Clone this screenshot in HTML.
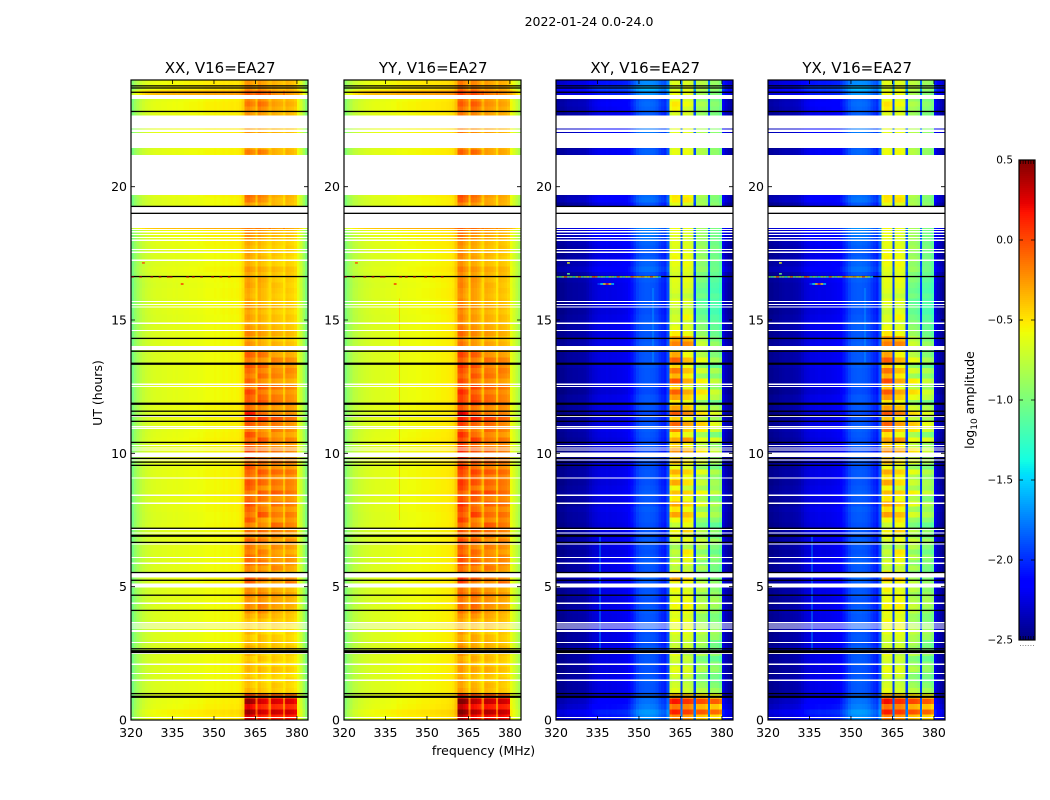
<!DOCTYPE html>
<html>
<head>
<meta charset="utf-8">
<title>2022-01-24 0.0-24.0</title>
<style>
html,body{margin:0;padding:0;background:#fff;}
svg{display:block;}
text{font-family:"DejaVu Sans","Liberation Sans",sans-serif;fill:#000;}
</style>
</head>
<body>
<svg id="figure" xmlns="http://www.w3.org/2000/svg" width="1050" height="800" viewBox="0 0 1050 800">
  <rect x="0" y="0" width="1050" height="800" fill="#fff"/>
  <text x="589" y="26" font-size="12.5" text-anchor="middle">2022-01-24 0.0-24.0</text>
  <text x="483.5" y="755" font-size="12.5" text-anchor="middle">frequency (MHz)</text>
  <text x="0" y="0" font-size="12.5" text-anchor="middle" transform="translate(102,393) rotate(-90)">UT (hours)</text>
  <text x="0" y="0" font-size="12.5" text-anchor="middle" transform="translate(974,400) rotate(-90)">log<tspan font-size="9" dy="3">10</tspan><tspan dy="-3"> amplitude</tspan></text>
  <g id="panels"></g>
  <g id="colorbar"></g>
</svg>
<script>
// ---- Chart data (log10 amplitude, hours, MHz) ----
const panelTitles = ["XX, V16=EA27", "YY, V16=EA27", "XY, V16=EA27", "YX, V16=EA27"];
const freqTicks = [320, 335, 350, 365, 380];
const hourTicks = [0, 5, 10, 15, 20];
const colorTicks = [0.5, 0.0, -0.5, -1.0, -1.5, -2.0, -2.5];
const colorTickLabels = ["0.5", "0.0", "\u22120.5", "\u22121.0", "\u22121.5", "\u22122.0", "\u22122.5"];

// Median spectrum for each correlation, one value per 1 MHz channel from 320 MHz
const spectrumXX = [-1.02,-0.92,-0.85,-0.78,-0.74,-0.71,-0.69,-0.67,-0.66,-0.65,-0.65,-0.64,-0.64,-0.63,-0.63,-0.62,
  -0.63,-0.62,-0.62,-0.61,-0.61,-0.60,-0.60,-0.60,-0.59,-0.60,-0.59,-0.58,-0.58,-0.58,-0.57,-0.58,
  -0.57,-0.56,-0.57,-0.56,-0.55,-0.56,-0.55,-0.53,-0.47,-0.30,-0.27,-0.31,-0.35,-0.32,-0.30,-0.34,
  -0.36,-0.40,-0.38,-0.34,-0.36,-0.38,-0.40,-0.40,-0.36,-0.38,-0.40,-0.44,-0.60,-0.72,-0.86,-1.00];
const spectrumYY = [-0.98,-0.90,-0.84,-0.78,-0.76,-0.73,-0.71,-0.69,-0.68,-0.67,-0.66,-0.65,-0.65,-0.64,-0.64,-0.63,
  -0.63,-0.62,-0.62,-0.60,-0.61,-0.60,-0.60,-0.59,-0.59,-0.59,-0.58,-0.58,-0.57,-0.57,-0.57,-0.56,
  -0.56,-0.55,-0.55,-0.54,-0.54,-0.53,-0.52,-0.50,-0.42,-0.20,-0.18,-0.24,-0.30,-0.28,-0.24,-0.26,
  -0.30,-0.36,-0.32,-0.28,-0.30,-0.32,-0.36,-0.36,-0.32,-0.34,-0.36,-0.40,-0.60,-0.68,-0.76,-0.84];
const spectrumXY = [-2.47,-2.46,-2.46,-2.44,-2.42,-2.42,-2.41,-2.41,-2.40,-2.40,-2.39,-2.36,-2.32,-2.29,-2.27,-2.25,
  -2.24,-2.24,-2.23,-2.24,-2.23,-2.23,-2.22,-2.22,-2.21,-2.20,-2.16,-2.08,-2.01,-1.94,-1.90,-1.88,
  -1.87,-1.87,-1.88,-1.89,-1.92,-1.98,-2.02,-2.05,-1.90,-0.70,-0.64,-0.64,-0.66,-0.70,-0.66,-0.66,
  -0.68,-0.72,-0.88,-0.84,-0.84,-0.85,-0.90,-1.00,-0.94,-0.94,-0.95,-1.02,-2.25,-2.35,-2.41,-2.45];
const spectrumYX = [-2.46,-2.46,-2.44,-2.44,-2.42,-2.41,-2.40,-2.40,-2.40,-2.39,-2.38,-2.36,-2.32,-2.28,-2.26,-2.24,
  -2.24,-2.23,-2.22,-2.23,-2.23,-2.22,-2.22,-2.21,-2.20,-2.19,-2.14,-2.07,-2.00,-1.93,-1.88,-1.87,
  -1.86,-1.86,-1.87,-1.88,-1.91,-1.97,-2.01,-2.05,-1.88,-0.68,-0.62,-0.62,-0.65,-0.70,-0.65,-0.64,
  -0.66,-0.70,-0.86,-0.82,-0.82,-0.84,-0.88,-0.98,-0.92,-0.92,-0.94,-1.00,-2.23,-2.33,-2.39,-2.45];

// Narrow notches between the four spectral windows
const gapFreqs = [365.4, 370.2, 375.3];
const gapValuesParallel = [-0.46, -0.46, -0.48];
const gapValuesCross = [-1.95, -1.95, -1.95];

// Row offsets (hundredths of a dex), one value per 0.2 h from 0 UT. Parallel hands
const parallelLow = [6,8,4,3,1, 0,0,0,0,0, 0,0,0,0,-1, 0,0,-1,0,0,
  0,0,0,0,0, 2,2,0,0,0, 0,0,0,0,0, 0,1,0,0,1,
  1,1,2,1,1, 2,2,1,2,2, 2,2,3,2,1, 2,2,1,2,1,
  0,0,1,0,0, 0,0,0,0,0, 0,0,0,0,0, -1,0,0,-1,0,
  0,-1,0,0,2, 0,0,0,1,2, 3,4,25,0,0, 0,0,0,2,2,
  0,0,0,0,0, 0,2,0,0,0, 3,3,0,2,4, 4,2,28,8,6];
const parallelBand1 = [55,70,52,72,30, -5,-10,-8,-12,-6, -8,-12,-5,-2,-8, -12,-5,-15,-10,-4,
  5,8,4,10,6, 22,28,10,8,18, 18,10,14,20,8, 16,10,24,14,20,
  28,18,12,22,26, 16,20,26,14,30, 30,22,18,28,12, 24,34,46,16,24,
  22,30,14,20,12, 18,26,12,22,6, 6,0,10,4,-2, 2,-2,4,0,-4,
  -2,2,0,-2,4, -4,-2,0,-6,-2, 4,8,12,0,0, 0,0,14,18,20,
  0,0,0,0,0, 0,12,0,0,0, 4,2,0,4,6, 14,8,22,6,4];
const parallelBand2 = [46,62,44,60,26, -6,-8,-12,-10,-4, -12,-6,-10,-4,-6, -4,-10,-12,-6,2,
  12,16,8,14,8, 4,22,12,6,18, 12,16,6,18,10, 22,12,6,30,16,
  12,20,26,10,24, 18,28,14,22,12, 24,16,30,14,8, 18,38,22,10,30,
  24,16,28,10,22, 14,24,8,20,4, 0,-2,6,2,-2, 0,-4,2,-2,-2,
  -2,0,2,-3,2, -6,-2,-4,-6,-4, 0,6,14,0,0, 0,0,10,14,12,
  0,0,0,0,0, 0,16,0,0,0, 4,2,0,6,12, 20,10,26,8,6];
const parallelBand3 = [50,66,46,62,28, -6,-4,-10,-8,-2, -10,-6,-8,-3,-4, -6,-12,-8,-4,0,
  4,8,6,10,4, 6,14,4,16,10, 10,8,14,6,12, 18,26,10,20,12,
  24,12,30,16,22, 14,26,12,22,16, 22,12,16,10,20, 20,32,14,8,22,
  20,12,22,8,18, 14,10,18,6,2, 2,-4,4,0,-3, -2,-6,0,-4,-6,
  -4,-2,-6,-4,0, -8,-6,-4,-8,-6, -2,2,10,0,0, 0,0,0,4,6,
  0,0,0,0,0, 0,2,0,0,0, 2,0,0,2,4, 8,4,14,2,2];
const parallelBand4 = [54,66,48,64,28, -6,-8,-6,-10,-4, -10,-8,-6,-2,-6, -8,-6,-12,-4,-2,
  2,6,4,8,2, 24,16,4,8,14, 14,6,12,16,6, 16,20,14,22,12,
  22,14,24,18,20, 16,24,12,20,14, 18,14,20,8,16, 14,26,16,12,18,
  16,12,20,6,14, 18,12,16,6,2, 0,-4,2,-2,-4, -2,-6,-2,-4,-6,
  -4,-6,-4,-2,0, -6,-8,-6,-4,-6, -2,0,8,0,0, 0,0,2,4,2,
  0,0,0,0,0, 0,4,0,0,0, 0,2,0,2,2, 6,2,12,2,2];

// Row offsets for the cross hands
const crossLow = [16,20,12,8,4, 0,0,2,0,-2, 0,0,0,2,-2, 0,-2,0,0,0,
  2,0,-2,0,0, 2,4,0,0,2, 0,-2,0,2,0, 0,-2,0,0,2,
  -2,0,2,0,-2, 0,0,-2,0,2, -4,0,-2,0,2, 0,-2,-4,0,0,
  0,-4,-2,0,0, 0,2,0,0,4, 2,0,0,2,2, 0,-2,0,0,0,
  0,0,2,0,8, 4,2,0,2,4, 8,10,16,0,0, 0,0,8,6,6,
  0,0,0,0,0, 0,4,0,0,0, 10,8,0,2,4, 6,4,18,30,16];
const crossBand1 = [45,78,50,82,30, 2,-4,-10,-2,4, -8,-4,4,-6,-10, -6,2,4,6,0,
  4,8,4,0,8, 4,34,8,-14,-4, -16,-10,-22,-6,2, 8,-10,6,36,14,
  36,12,26,6,34, 14,32,4,28,20, 42,22,34,14,46, 56,22,60,36,12,
  38,58,22,62,30, 50,20,58,34,-4, 46,36,12,4,-4, -4,-10,-6,0,-8,
  -2,0,2,-4,0, 4,8,6,0,2, 2,4,6,0,0, 0,0,12,14,8,
  0,0,0,0,0, 0,4,0,0,0, 2,0,0,-2,10, 14,4,6,-4,0];
const crossBand2 = [40,70,46,74,26, -4,-8,-14,-4,2, -10,-6,-12,-4,-8, 0,4,8,4,0,
  8,12,8,4,2, 8,20,2,-10,2, 10,16,-14,6,-2, 22,6,14,28,8,
  24,6,22,-6,18, 8,22,-2,14,-8, 36,12,42,4,22, 38,8,46,26,6,
  22,36,2,34,12, 28,6,30,8,-4, 46,32,6,0,-4, 10,2,-8,0,-10,
  -2,2,6,0,4, 8,6,4,2,0, -2,0,4,0,0, 0,0,16,12,4,
  0,0,0,0,0, 0,8,0,0,0, 4,0,0,0,-2, 8,0,6,2,0];
const crossBand3 = [45,80,50,84,34, 6,-4,-12,-14,4, -8,-16,4,-6,0, 0,8,4,-4,-6,
  6,10,2,-4,6, 10,-4,-14,2,-12, 4,-10,4,12,-4, 6,-18,-8,16,-4,
  22,2,28,-2,12, 0,22,-8,18,8, 34,8,24,-2,32, 42,8,36,14,-8,
  22,36,4,30,-6, 16,-10,24,4,-10, 12,4,-6,-10,-14, -20,-26,-22,-28,-18,
  -24,-20,-14,-16,-6, -10,-4,-8,-2,-6, -4,-6,-2,0,0, 0,0,-2,2,6,
  0,0,0,0,0, 0,4,0,0,0, 2,0,0,-6,-4, 2,-8,-2,4,6];
const crossBand4 = [48,84,54,88,36, 8,-2,-10,-8,4, -2,-14,2,-8,-10, 4,8,4,-4,-6,
  2,8,10,4,0, 4,-4,-12,-8,-4, 0,-12,-4,8,-8, 2,-16,-2,12,4,
  14,-6,20,6,10, 2,14,-8,10,2, 22,4,30,-6,24, 32,8,30,12,-10,
  16,24,2,20,-2, 12,-14,10,-4,-14, 4,-6,-12,-14,-16, -20,-26,-24,-22,-18,
  -24,-22,-18,-14,-10, -12,-8,-10,-6,-10, -8,-10,-6,0,0, 0,0,-4,-2,0,
  0,0,0,0,0, 0,2,0,0,0, 0,0,0,-6,-4, 0,-6,-4,2,4];

// Narrow vertical RFI streaks: panel index, MHz, hour range, log10 amplitude
const streakPanels = [1, 2, 3, 2, 3];
const streakFreqs = [340, 335.9, 335.9, 355, 355];
const streakFrom = [7.5, 2.6, 2.6, 13.4, 13.4];
const streakTo = [15.8, 6.9, 6.9, 16.2, 16.2];
const streakValues = [-0.42, -1.75, -1.75, -1.7, -1.7];

// Flagged time ranges [from, to] in hours (blank) and single flagged samples
const blankRangeStart = [23.29,22.19,22.05,21.45,19.69,19.01,18.45,13.88,9.87,5.35,4.97,3.30];
const blankRangeEnd   = [23.44,22.66,22.14,22.01,21.19,19.24,18.98,14.03,10.04,5.51,5.11,3.38];
const blankSamples = [18.40,18.31,18.20,18.09,17.99,17.64,17.54,17.24,15.70,15.58,15.49,14.88,14.61,12.59,12.51,
  11.39,11.00,10.94,10.29,10.20,10.13,9.75,9.08,8.43,8.13,7.15,7.02,6.60,6.10,5.88,4.38,3.66,3.60,3.53,3.45,
  2.91,2.50,2.09,1.75,1.49,0.10];
const zeroSamples = [23.78,23.70,23.54,22.82,19.26,19.00,16.63,14.31,13.83,11.58,11.42,11.20,10.41,9.81,9.67,9.55,
  7.19,6.66,5.53,5.24,4.68,4.11,2.67,0.99];
const zeroWideSamples = [13.36,11.86,6.91,2.58,2.55,0.87];

// Strong RFI row at 16.6 h (one value per channel from 320 MHz)
const glitchHour = 16.6;
const glitchCross = [-0.9,-1.2,-0.8,-0.1,-1.0,-0.9,-1.3,-0.8,-0.2,-1.1,-0.9,-0.7,-1.0,-0.1,-0.2,-1.2,-0.9,-1.1,-1.3,
  -0.8,-0.9,-1.2,-0.1,-0.9,-1.1,-0.7,-0.9,-0.1,-0.4,-0.5,-0.4,-0.3,-0.6,-0.5,-0.1,-0.5,-0.9,-1.5];
const glitchParallel = [0.4,null,null,0.4,null,null,null,0.4,null,null,0.4,null,null,0.4,0.4,null,null,null,null,
  null,0.4,null,0.4,null,null,0.4,null,null,null,0.4,null,null,0.4,null,null,0.4,null,null];

// Isolated RFI spots
const spikeHours = [16.35,16.35,16.35,16.35,16.35,16.35,17.14,16.73];
const spikeFreqs = [335,336,337,338,339,340,324,324];
const spikeParallel = [null,null,null,0.1,null,null,0.0,null];
const spikeCross = [-1.9,-1.4,-0.5,0.1,-0.5,-1.5,-0.6,-1.0];

// ---- Layout and axis functions ----
const panelLefts = [131, 344, 556, 768];
const panelWidth = 177, axisTop = 80, axisBottom = 720;
const freqMin = 320, freqMax = 384, hourMin = 0, hourMax = 24;
const rowStep = 0.2, colorMin = -2.5, colorMax = 0.5;
const barLeft = 1019, barWidth = 16, barTop = 160, barBottom = 640;
const NS = "http://www.w3.org/2000/svg";

function xScale(panel, mhz) { return panelLefts[panel] + (mhz - freqMin) / (freqMax - freqMin) * panelWidth; }
function yScale(hour) { return axisBottom - (hour - hourMin) / (hourMax - hourMin) * (axisBottom - axisTop); }
function colorY(v) { return barBottom - (v - colorMin) / (colorMax - colorMin) * (barBottom - barTop); }

function ramp(points, t) {
  for (let i = 1; i < points.length; i++) {
    if (t <= points[i][0]) {
      const a = points[i - 1], b = points[i];
      return a[1] + (b[1] - a[1]) * (t - a[0]) / (b[0] - a[0]);
    }
  }
  return points[points.length - 1][1];
}
const jetR = [[0,0],[0.35,0],[0.66,1],[0.89,1],[1,0.5]];
const jetG = [[0,0],[0.125,0],[0.375,1],[0.64,1],[0.91,0],[1,0]];
const jetB = [[0,0.5],[0.11,1],[0.34,1],[0.65,0],[1,0]];
function jet(v) {
  const t = Math.max(0, Math.min(1, (v - colorMin) / (colorMax - colorMin)));
  return "rgb(" + Math.round(255 * ramp(jetR, t)) + "," + Math.round(255 * ramp(jetG, t)) + "," + Math.round(255 * ramp(jetB, t)) + ")";
}
function make(tag, parent, attrs) {
  const el = document.createElementNS(NS, tag);
  for (const k in attrs) el.setAttribute(k, attrs[k]);
  parent.appendChild(el);
  return el;
}
function zoneOf(ch) {
  if (ch < 41 || ch > 59) return 0;
  if (ch < 45) return 1;
  if (ch < 50) return 2;
  if (ch < 55) return 3;
  return 4;
}

const spectra = [spectrumXX, spectrumYY, spectrumXY, spectrumYX];
const parallelRows = [parallelLow, parallelBand1, parallelBand2, parallelBand3, parallelBand4];
const crossRows = [crossLow, crossBand1, crossBand2, crossBand3, crossBand4];
const panelsRoot = document.getElementById("panels");
const rowCount = Math.round((hourMax - hourMin) / rowStep);

panelTitles.forEach(function (title, p) {
  const isCross = p >= 2;
  const spectrum = spectra[p];
  const rows = isCross ? crossRows : parallelRows;
  const gapValues = isCross ? gapValuesCross : gapValuesParallel;
  const glitch = isCross ? glitchCross : glitchParallel;
  const spikes = isCross ? spikeCross : spikeParallel;

  const g = make("g", panelsRoot, {});
  
  

  const cells = make("g", g, { "shape-rendering": "crispEdges" });
  
  

  for (let r = 0; r < rowCount; r++) {
    const yTop = yScale((r + 1) * rowStep), yBot = yScale(r * rowStep);
    for (let ch = 0; ch < spectrum.length; ch++) {
      const x0 = xScale(p, freqMin + ch), x1 = xScale(p, freqMin + ch + 1);
      const value = spectrum[ch] + (rows[zoneOf(ch)][r] || 0) / 100;
      const cell = make("rect", cells, { x: x0, y: yTop, width: x1 - x0, height: yBot - yTop, fill: jet(value) });
      
      
    }
    gapFreqs.forEach(function (f, i) {
      const x0 = xScale(p, f - 0.4), x1 = xScale(p, f + 0.4);
      const value = gapValues[i] + (rows[0][r] || 0) / 100 + (isCross ? 0 : (rows[i + 1][r] || 0) / 200);
      const gap = make("rect", cells, { x: x0, y: yTop, width: x1 - x0, height: yBot - yTop, fill: jet(value) });
      
      
    });
  }

  streakPanels.forEach(function (sp, i) {
    if (sp !== p) return;
    const streak = make("rect", cells, { x: xScale(p, streakFreqs[i]) - 0.5, y: yScale(streakTo[i]), width: 1, height: yScale(streakFrom[i]) - yScale(streakTo[i]), fill: jet(streakValues[i]) });
    
    
  });

  const flags = make("g", g, { "shape-rendering": "crispEdges" });
  
  
  blankRangeStart.forEach(function (h0, i) {
    const h1 = blankRangeEnd[i];
    const blank = make("rect", flags, { x: panelLefts[p], y: yScale(h1), width: panelWidth, height: yScale(h0) - yScale(h1), fill: "#fff" });
    
    
  });
  blankSamples.forEach(function (h) {
    const line = make("rect", flags, { x: panelLefts[p], y: yScale(h) - 0.55, width: panelWidth, height: 1.1, fill: "#fff" });
    
    
  });
  zeroSamples.forEach(function (h) {
    const line = make("rect", g, { x: panelLefts[p], y: yScale(h) - 0.65, width: panelWidth, height: 1.3, fill: "#000" });
    
    
  });
  zeroWideSamples.forEach(function (h) {
    const line = make("rect", g, { x: panelLefts[p], y: yScale(h) - 1.1, width: panelWidth, height: 2.2, fill: "#000" });
    
    
  });

  glitch.forEach(function (v, ch) {
    if (v === null) return;
    const px = make("rect", g, { x: xScale(p, freqMin + ch), y: yScale(glitchHour) - 1, width: xScale(p, freqMin + ch + 1) - xScale(p, freqMin + ch), height: 1.2, fill: jet(v) });
    
    
  });
  spikes.forEach(function (v, i) {
    if (v === null) return;
    const px = make("rect", g, { x: xScale(p, spikeFreqs[i]), y: yScale(spikeHours[i]) - 0.7, width: xScale(p, spikeFreqs[i] + 1) - xScale(p, spikeFreqs[i]), height: 1.4, fill: jet(v) });
    
    
  });

  const frame = make("rect", g, { x: panelLefts[p], y: axisTop, width: panelWidth, height: axisBottom - axisTop, fill: "none", stroke: "#000", "stroke-width": 1.2 });
  
  

  freqTicks.forEach(function (f) {
    const x = xScale(p, f);
    const tb = make("path", g, { d: "M" + x + " " + axisBottom + "v-4M" + x + " " + axisTop + "v4", stroke: "#000", "stroke-width": 0.8, fill: "none" });
    
    
    const label = make("text", g, { x: x, y: 737, "font-size": 12.5, "text-anchor": "middle" });
    label.textContent = String(f);
    
    
  });
  hourTicks.forEach(function (h) {
    const y = yScale(h);
    const tb = make("path", g, { d: "M" + panelLefts[p] + " " + y + "h4M" + (panelLefts[p] + panelWidth) + " " + y + "h-4", stroke: "#000", "stroke-width": 0.8, fill: "none" });
    
    
    const label = make("text", g, { x: panelLefts[p] - 4, y: y + 4.5, "font-size": 12.5, "text-anchor": "end" });
    label.textContent = String(h);
    
    
  });

  const heading = make("text", g, { x: panelLefts[p] + panelWidth / 2 + 0.7, y: 73, "font-size": 15, "text-anchor": "middle" });
  heading.textContent = title;
  
  
});

// ---- Colorbar ----
const barRoot = document.getElementById("colorbar");
const barCells = make("g", barRoot, { "shape-rendering": "crispEdges" });


for (let py = barTop; py < barBottom; py += 2) {
  const v = colorMax - (py + 1 - barTop) / (barBottom - barTop) * (colorMax - colorMin);
  const strip = make("rect", barCells, { x: barLeft, y: py, width: barWidth, height: 2, fill: jet(v) });
  
  
}
const barFrame = make("rect", barRoot, { x: barLeft, y: barTop, width: barWidth, height: barBottom - barTop, fill: "none", stroke: "#000", "stroke-width": 1.2 });


colorTicks.forEach(function (v, i) {
  const y = colorY(v);
  const t = make("path", barRoot, { d: "M" + barLeft + " " + y + "h4M" + (barLeft + barWidth) + " " + y + "h-4", stroke: "#000", "stroke-width": 0.8, fill: "none" });
  
  
  const label = make("text", barRoot, { x: 1013, y: y + 3.5, "font-size": 10.5, "text-anchor": "end" });
  label.textContent = colorTickLabels[i];
  
  
});
for (let k = 0; k < 6; k++) {
  const x = barLeft + 1.5 + k * 2.6;
  const t = make("path", barRoot, { d: "M" + x + " " + barTop + "v4M" + x + " " + barBottom + "v-4", stroke: "#000", "stroke-width": 0.7, fill: "none" });
  
  
  const dot = make("rect", barRoot, { x: x - 0.5, y: 645, width: 1, height: 1, fill: "#888" });
  
  
}
</script>
</body>
</html>
